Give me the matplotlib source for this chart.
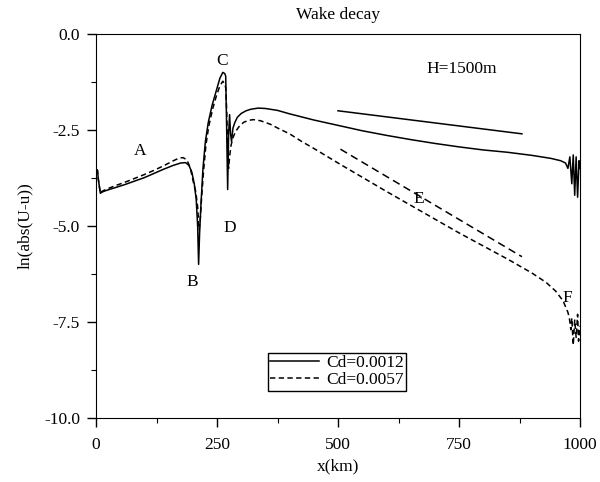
import matplotlib.pyplot as plt
from matplotlib.ticker import MultipleLocator

plt.rcParams['font.family'] = ['Liberation Serif', 'DejaVu Serif']

# Cd = 0.0012 (solid)
x1 = [0, 3, 5, 9, 12, 20, 40, 60, 80, 100, 120, 140, 160, 175, 185, 192, 198,
      203, 207, 210, 212, 214, 217, 221, 226, 232, 240, 248, 256, 262, 266, 268,
      270, 272, 274, 276, 278, 280, 283, 287, 292, 300, 310, 320, 335, 350, 375,
      400, 450, 500, 550, 600, 650, 700, 750, 800, 850, 900, 940, 960, 970, 975,
      979, 983, 986, 989, 992, 995, 998, 1000]
y1 = [-3.52, -3.55, -3.8, -4.15, -4.12, -4.08, -4.0, -3.92, -3.83, -3.74, -3.63,
      -3.52, -3.42, -3.36, -3.35, -3.42, -3.6, -3.9, -4.3, -5.0, -6.0, -5.2, -4.4,
      -3.5, -2.8, -2.3, -1.85, -1.5, -1.15, -1.0, -1.03, -1.1, -2.5, -4.05, -2.6,
      -2.1, -2.6, -2.8, -2.45, -2.3, -2.17, -2.07, -2.0, -1.96, -1.93, -1.94,
      -1.99, -2.08, -2.24, -2.38, -2.52, -2.64, -2.75, -2.85, -2.94, -3.02, -3.08,
      -3.16, -3.24, -3.3, -3.36, -3.5, -3.2, -3.9, -3.15, -4.2, -3.2, -4.25, -3.3,
      -3.5]

# Cd = 0.0057 (dashed)
x2 = [0, 3, 5, 9, 12, 20, 40, 60, 80, 100, 120, 140, 160, 172, 180, 188, 195,
      201, 206, 210, 213, 215, 218, 222, 227, 233, 241, 249, 256, 262, 266, 268,
      270, 272, 274, 276, 279, 283, 288, 295, 305, 315, 325, 340, 360, 380, 400,
      425, 450, 500, 550, 600, 650, 700, 750, 800, 850, 900, 930, 950, 965, 975,
      978, 981, 983, 986, 989, 992, 995, 997, 1000]
y2 = [-3.52, -3.55, -3.8, -4.15, -4.1, -4.05, -3.95, -3.86, -3.76, -3.66, -3.55,
      -3.43, -3.3, -3.23, -3.22, -3.28, -3.5, -3.85, -4.1, -4.5, -5.1, -4.9, -4.3,
      -3.6, -2.9, -2.4, -1.95, -1.6, -1.35, -1.23, -1.3, -1.4, -2.0, -3.0, -3.5,
      -3.2, -2.9, -2.7, -2.55, -2.42, -2.3, -2.25, -2.23, -2.26, -2.35, -2.48,
      -2.6, -2.8, -2.98, -3.36, -3.73, -4.1, -4.46, -4.82, -5.18, -5.52, -5.86,
      -6.22, -6.47, -6.7, -6.95, -7.25, -7.4, -7.7, -7.4, -8.1, -7.45, -7.9,
      -7.3, -8.0, -7.6]

# reference slopes
ref_solid_x = [500, 880]
ref_solid_y = [-2.0, -2.6]
ref_dash_x = [505, 880]
ref_dash_y = [-3.0, -5.8]

labels = ['A', 'B', 'C', 'D', 'E', 'F']
label_x = [92, 198, 260, 277, 667, 973]
label_y = [-3.05, -6.45, -0.7, -5.04, -4.3, -6.87]

fig = plt.figure(figsize=(6, 4.82), dpi=100)
ax = fig.add_axes([0.16, 0.1328, 0.8067, 0.7967])

ax.plot(x1, y1, color='black', lw=1.1, label='Cd=0.0012')
ax.plot(x2, y2, color='black', lw=1.1, dashes=(3.5, 2.2), label='Cd=0.0057')
ax.plot(ref_solid_x, ref_solid_y, color='black', lw=1.1)
ax.plot(ref_dash_x, ref_dash_y, color='black', lw=1.1, dashes=(5, 3))

for t, lx, ly in zip(labels, label_x, label_y):
    ax.text(lx, ly, t, fontsize=12.5, ha='center', va='center')
ax.text(755, -0.9, 'H=1500m', fontsize=12.5, ha='center', va='center')

ax.set_xlim(0, 1000)
ax.set_ylim(-10, 0)
ax.xaxis.set_major_locator(MultipleLocator(250))
ax.xaxis.set_minor_locator(MultipleLocator(125))
ax.yaxis.set_major_locator(MultipleLocator(2.5))
ax.yaxis.set_minor_locator(MultipleLocator(1.25))
ax.yaxis.set_major_formatter(plt.FormatStrFormatter('%.1f'))
ax.tick_params(which='major', length=6.5, width=1, labelsize=12.5, pad=5)
ax.tick_params(which='minor', length=3.5, width=0.8)
ax.tick_params(axis='x', which='major', pad=7)

ax.set_title('Wake decay', fontsize=12.5, pad=11)
ax.set_xlabel('x(km)', fontsize=12.5, labelpad=4)
ax.set_ylabel('ln(abs(U-u))', fontsize=12.5, labelpad=8)

leg = ax.legend(loc='upper left', bbox_to_anchor=(0.355, 0.17), fontsize=12.5,
                frameon=True, fancybox=False, edgecolor='black', framealpha=1,
                handlelength=2.8, handletextpad=0.4, borderpad=0.15,
                labelspacing=0.05, borderaxespad=0)
leg.get_frame().set_linewidth(1.0)

fig.savefig('out.png', dpi=100)
